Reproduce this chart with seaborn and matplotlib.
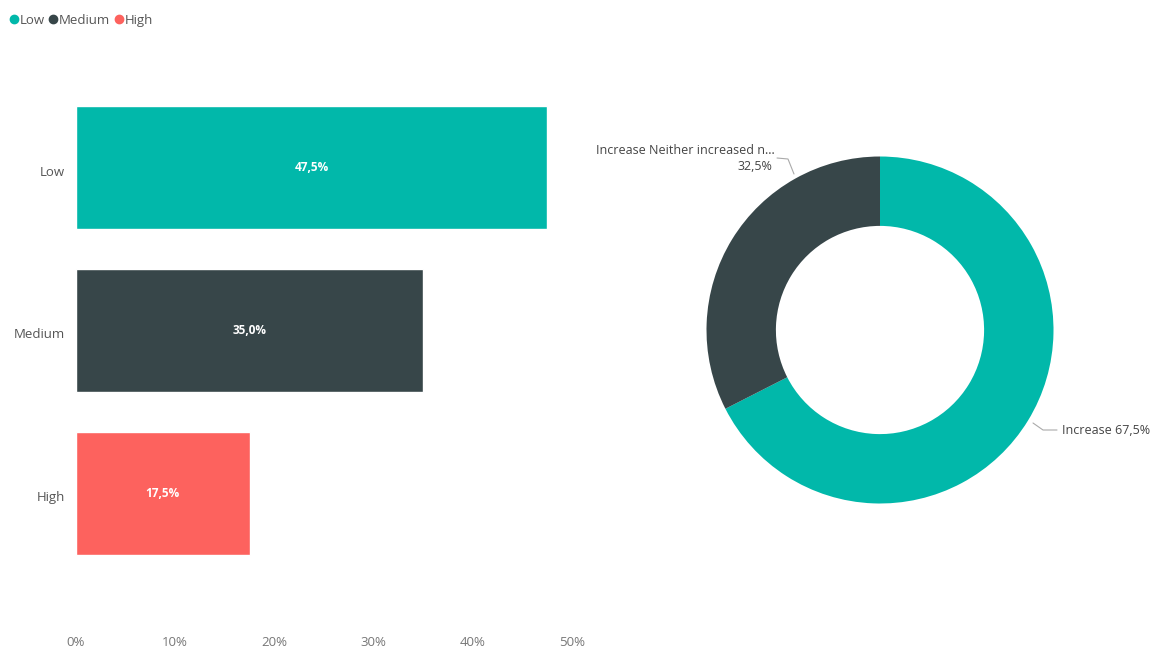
import matplotlib
matplotlib.use("Agg")
import matplotlib.pyplot as plt
import matplotlib.transforms as mtransforms
import seaborn as sns
import pandas as pd
from matplotlib.lines import Line2D

# ---- data ----
categories = ["Low", "Medium", "High"]
shares = [47.5, 35.0, 17.5]
bar_colors = ["#01B8AA", "#374649", "#FD625E"]
x_ticks = [0, 10, 20, 30, 40, 50]
x_tick_labels = ["0%", "10%", "20%", "30%", "40%", "50%"]

donut_labels = ["Increase", "Increase Neither increased n..."]
donut_values = [67.5, 32.5]
donut_colors = ["#01B8AA", "#374649"]

sns.set_theme(style="white")
plt.rcParams["font.family"] = ["Open Sans", "DejaVu Sans"]

W, H = 1156, 649
fig = plt.figure(figsize=(W / 100, H / 100), dpi=100)

def fmt(v):
    return f"{v:.1f}%".replace(".", ",")

# ---- bar chart ----
ax = fig.add_axes([76 / W, 1 - 615 / H, (572 - 76) / W, (615 - 46) / H])
df = pd.DataFrame({"cat": categories, "val": shares})
sns.barplot(data=df, x="val", y="cat", hue="cat", palette=bar_colors,
            order=categories, hue_order=categories, width=0.757,
            legend=False, ax=ax, saturation=1)
ax.set_xlim(0, 50)
ax.set_ylim(2.75, -0.75)
ax.set_xticks(x_ticks)
ax.set_xticklabels(x_tick_labels)
ax.set_xlabel("")
ax.set_ylabel("")
for s in ax.spines.values():
    s.set_visible(False)
ax.tick_params(axis="x", length=0, pad=15, labelsize=9.5, labelcolor="#777777")
ax.tick_params(axis="y", length=0, pad=8, labelsize=9.5, labelcolor="#555555")
shift = mtransforms.ScaledTranslation(0, -3 / 100, fig.dpi_scale_trans)
for lbl in ax.get_yticklabels():
    lbl.set_transform(lbl.get_transform() + shift)
for i, v in enumerate(shares):
    ax.text(v / 2, i, fmt(v), ha="center", va="center", color="white",
            fontsize=8.5, fontweight="bold")

# ---- legend ----
handles = [Line2D([0], [0], marker="o", color="w", markerfacecolor=c,
                  markeredgecolor=c, markersize=6, linestyle="")
           for c in bar_colors]
fig.legend(handles, categories, loc="upper left", bbox_to_anchor=(9 / W, 1 - 14 / H),
           ncol=3, frameon=False, fontsize=9.5, handletextpad=0.1,
           columnspacing=0.3, handlelength=0.7, labelcolor="#555555",
           borderaxespad=0, borderpad=0)

# ---- donut ----
R = 173.5
cx, cy = 880, 330
ax2 = fig.add_axes([(cx - R) / W, 1 - (cy + R) / H, 2 * R / W, 2 * R / H])
ax2.pie(donut_values, colors=donut_colors, startangle=90, counterclock=False,
        radius=1, wedgeprops=dict(width=0.4, linewidth=0))
ax2.set_xlim(-1, 1)
ax2.set_ylim(-1, 1)
ax2.set_aspect("auto")
ax2.axis("off")

def px(x, y):
    return ((x - cx) / R, -(y - cy) / R)

# right label
xs, ys = zip(px(1033, 423), px(1043, 430), px(1057, 430))
ax2.plot(xs, ys, color="#aaaaaa", lw=0.8, clip_on=False)
tx, ty = px(1062, 431)
ax2.text(tx, ty, f"{donut_labels[0]} {fmt(donut_values[0])}", ha="left", va="center",
         fontsize=9, color="#444444", clip_on=False)

# left label
xs, ys = zip(px(777, 158), px(788, 159), px(794, 174))
ax2.plot(xs, ys, color="#aaaaaa", lw=0.8, clip_on=False)
tx, ty = px(775, 151)
ax2.text(tx, ty, donut_labels[1], ha="right", va="center",
         fontsize=9, color="#444444", clip_on=False)
tx, ty = px(772, 167)
ax2.text(tx, ty, fmt(donut_values[1]), ha="right", va="center",
         fontsize=9, color="#444444", clip_on=False)

fig.savefig("out.png", dpi=100, facecolor="white")
